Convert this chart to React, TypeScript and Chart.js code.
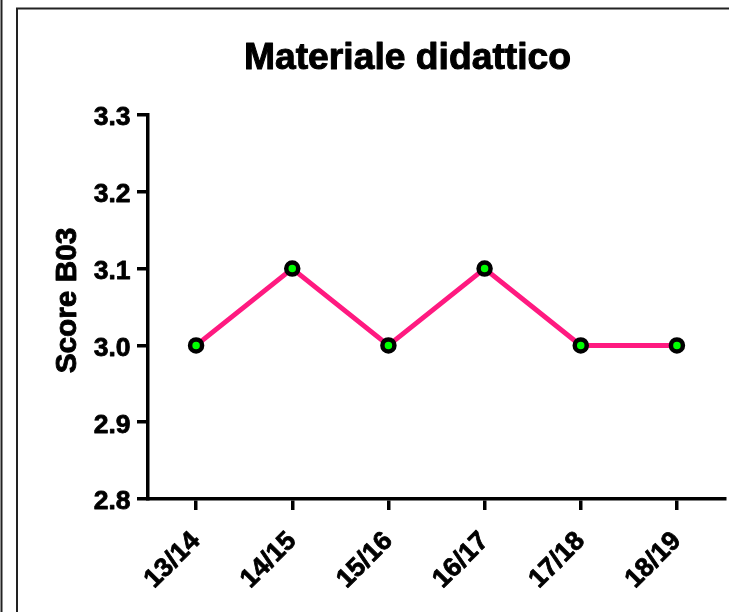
import React, { useEffect, useRef } from "react";
import { Chart, registerables } from "chart.js";

Chart.register(...registerables);

const categories = ["13/14", "14/15", "15/16", "16/17", "17/18", "18/19"];
const scores = [3.0, 3.1, 3.0, 3.1, 3.0, 3.0];
const yMin = 2.8;
const yMax = 3.3;
const yStep = 0.1;
const chartTitle = "Materiale didattico";
const yAxisTitle = "Score B03";

const FONT = '"Liberation Sans", Arial, Helvetica, sans-serif';
const LINE_COLOR = "#FF1A80";
const POINT_FILL = "#00FF00";

function drawText(
  ctx: CanvasRenderingContext2D,
  text: string,
  x: number,
  y: number,
  angle: number,
  font: string,
  align: CanvasTextAlign,
  baseline: CanvasTextBaseline,
  weight: number
) {
  ctx.save();
  ctx.translate(x, y);
  ctx.rotate(angle);
  ctx.font = font;
  ctx.textAlign = align;
  ctx.textBaseline = baseline;
  ctx.fillStyle = "#000";
  ctx.fillText(text, 0, 0);
  if (weight > 0) {
    ctx.strokeStyle = "#000";
    ctx.lineWidth = weight;
    ctx.lineJoin = "round";
    ctx.strokeText(text, 0, 0);
  }
  ctx.restore();
}

// font size (bold) whose ink width equals target
function fitSize(ctx: CanvasRenderingContext2D, text: string, target: number) {
  ctx.save();
  ctx.font = `bold 100px ${FONT}`;
  const m = ctx.measureText(text);
  ctx.restore();
  const ink = m.actualBoundingBoxLeft + m.actualBoundingBoxRight;
  return (100 * target) / ink;
}

const prismPlugin = {
  id: "prismText",
  beforeDraw(chart: any) {
    const ctx: CanvasRenderingContext2D = chart.ctx;
    const w = chart.width;
    const h = chart.height;
    ctx.save();
    ctx.fillStyle = "#fff";
    ctx.fillRect(0, 0, w, h);
    ctx.strokeStyle = "#222";
    ctx.lineWidth = 2;
    ctx.beginPath();
    ctx.moveTo(1.5, 0);
    ctx.lineTo(1.5, h);
    ctx.moveTo(17, h);
    ctx.lineTo(17, 8.5);
    ctx.lineTo(w, 8.5);
    ctx.stroke();
    ctx.restore();
  },
  afterDraw(chart: any) {
    const ctx: CanvasRenderingContext2D = chart.ctx;
    const xs = chart.scales.x;
    const ys = chart.scales.y;

    // title
    const tSize = fitSize(ctx, chartTitle, 324);
    drawText(ctx, chartTitle, 407.5, 56 + tSize * 0.358, 0, `bold ${tSize}px ${FONT}`, "center", "alphabetic", 1);

    // y axis title
    const yTSize = fitSize(ctx, yAxisTitle, 144);
    drawText(ctx, yAxisTitle, 65.5 + yTSize * 0.358, 300.5, -Math.PI / 2, `bold ${yTSize}px ${FONT}`, "center", "alphabetic", 0.9);

    // y tick labels
    const tickSize = 26.5;
    const tickFont = `bold ${tickSize}px ${FONT}`;
    ys.ticks.forEach((t: any) => {
      const y = ys.getPixelForValue(t.value);
      drawText(ctx, Number(t.value).toFixed(1), 130.5, y + tickSize * 0.358 + 1, 0, tickFont, "right", "alphabetic", 0.8);
    });

    // x tick labels
    categories.forEach((c, i) => {
      const x = xs.getPixelForValue(i);
      drawText(ctx, c, x, xs.top + 38, -Math.PI / 4, tickFont, "right", "middle", 0.8);
    });
  },
};

export default function App() {
  const ref = useRef<HTMLCanvasElement | null>(null);

  useEffect(() => {
    if (!ref.current) return;
    const chart = new Chart(ref.current, {
      type: "line",
      data: {
        labels: categories,
        datasets: [
          {
            data: scores,
            borderColor: LINE_COLOR,
            borderWidth: 5,
            pointRadius: 6,
            pointBorderWidth: 4.5,
            pointBackgroundColor: POINT_FILL,
            pointBorderColor: "#000",
            pointHoverRadius: 6,
            tension: 0,
            fill: false,
          },
        ],
      },
      plugins: [prismPlugin],
      options: {
        responsive: false,
        animation: false,
        events: [],
        layout: {
          autoPadding: false,
          padding: { top: 115, right: 4, left: 0, bottom: 0 },
        },
        plugins: {
          legend: { display: false },
          title: { display: false },
          tooltip: { enabled: false },
        },
        scales: {
          x: {
            type: "category",
            offset: true,
            grid: {
              display: true,
              drawOnChartArea: false,
              drawTicks: true,
              tickLength: 11,
              tickWidth: 3.5,
              tickColor: "#000",
              lineWidth: 3.5,
              color: "#000",
              offset: false,
            },
            border: { display: true, color: "#000", width: 3.5 },
            ticks: { display: false, autoSkip: false },
            afterFit: (scale: any) => {
              scale.height = 113;
            },
          },
          y: {
            type: "linear",
            min: yMin,
            max: yMax,
            grid: {
              display: true,
              drawOnChartArea: false,
              drawTicks: true,
              tickLength: 11,
              tickWidth: 3.5,
              tickColor: "#000",
              lineWidth: 3.5,
              color: "#000",
            },
            border: { display: true, color: "#000", width: 3.5 },
            ticks: { display: false, stepSize: yStep },
            afterFit: (scale: any) => {
              scale.width = 148;
            },
          },
        },
      },
    });
    return () => chart.destroy();
  }, []);

  return (
    <div style={{ position: "absolute", left: 0, top: 0, width: 729, height: 612 }}>
      <canvas ref={ref} width={729} height={612} style={{ display: "block" }} />
    </div>
  );
}
